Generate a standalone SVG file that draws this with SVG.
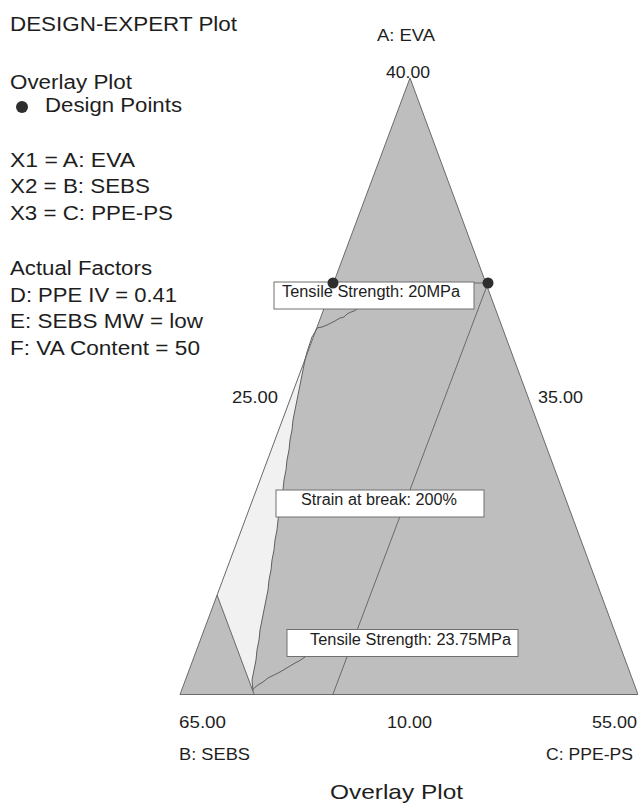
<svg xmlns="http://www.w3.org/2000/svg" width="638" height="804" viewBox="0 0 638 804">
<style>
text { font-family: "Liberation Sans", Arial, sans-serif; fill: #1e1e1e; }
.lg { font-size: 19.5px; }
.ax { font-size: 17px; }
.bx { font-size: 16px; }
.box { fill: #ffffff; stroke: #707070; stroke-width: 1; }
.edge { fill: none; stroke: #6a6a6a; stroke-width: 1; }
.ctr { fill: none; stroke: #606060; stroke-width: 1; stroke-linejoin: round; }
.pt { fill: #2e2e2e; }
</style>
<rect x="0" y="0" width="638" height="804" fill="#ffffff"/>

<g id="legend">
  <text class="lg" x="10" y="31" textLength="227" lengthAdjust="spacingAndGlyphs">DESIGN-EXPERT Plot</text>
  <text class="lg" x="10" y="89" textLength="122" lengthAdjust="spacingAndGlyphs">Overlay Plot</text>
  <circle class="pt" cx="22" cy="107" r="6"/>
  <text class="lg" x="45" y="112" textLength="137" lengthAdjust="spacingAndGlyphs">Design Points</text>
  <text class="lg" x="10" y="167" textLength="125" lengthAdjust="spacingAndGlyphs">X1 = A: EVA</text>
  <text class="lg" x="10" y="193" textLength="140" lengthAdjust="spacingAndGlyphs">X2 = B: SEBS</text>
  <text class="lg" x="10" y="220" textLength="163" lengthAdjust="spacingAndGlyphs">X3 = C: PPE-PS</text>
  <text class="lg" x="10" y="275" textLength="142" lengthAdjust="spacingAndGlyphs">Actual Factors</text>
  <text class="lg" x="10" y="302" textLength="167" lengthAdjust="spacingAndGlyphs">D: PPE IV = 0.41</text>
  <text class="lg" x="10" y="328" textLength="193" lengthAdjust="spacingAndGlyphs">E: SEBS MW = low</text>
  <text class="lg" x="10" y="355" textLength="190" lengthAdjust="spacingAndGlyphs">F: VA Content = 50</text>
</g>

<g id="plot">
  <polygon points="410,78 638,694.5 180,694.5" fill="#bebebe"/>
  <polygon id="light-region" fill="#f1f1f1" points="315,332 217,595 253,691 252,680 254,670 256,660 257,650 259,640 260,630 262,620 264,610 266,600 268,590 269,580 271,570 272,560 274,550 275,540 277,530 278,520 280,510 281,500 283,490 284,480 286,470 287,460 289,450 290,440 292,430 293,420 295,410 297,400 299,390 301,380 303,370 305,360 307,352 310,343 312,337"/>
  <g id="connectors">
    <polygon class="edge" points="410,78 638,694.5 180,694.5"/>
    <line class="edge" x1="217" y1="595" x2="254" y2="694"/>
    <line class="edge" x1="488" y1="283" x2="333" y2="694"/>
    <polyline class="ctr" points="253,691 252,680 254,670 256,660 257,650 259,640 260,630 262,620 264,610 266,600 268,590 269,580 271,570 272,560 274,550 275,540 277,530 278,520 280,510 281,500 283,490 284,480 286,470 287,460 289,450 290,440 292,430 293,420 295,410 297,400 299,390 301,380 303,370 305,360 307,352 310,343 312,337 315,332"/>
    <polyline class="ctr" points="315,332 317,328 322,327 327,325 331,323 335,321 340,318 344,317 347,314 351,312 354,311 357,309"/>
    <polyline class="ctr" points="253,689 258,685 263,682 268,678 274,675 280,672 285,669 290,666 295,663 299,661 302,659 305,657"/>
    <line class="edge" x1="474" y1="283" x2="488" y2="283"/>
  </g>
  <g id="label-ts20">
    <rect class="box" x="274" y="282" width="200" height="27"/>
    <text class="bx" x="282" y="297" textLength="178" lengthAdjust="spacingAndGlyphs">Tensile Strength: 20MPa</text>
  </g>
  <g id="label-strain">
    <rect class="box" x="276" y="490" width="208" height="27"/>
    <text class="bx" x="301" y="505" textLength="156" lengthAdjust="spacingAndGlyphs">Strain at break: 200%</text>
  </g>
  <g id="label-ts2375">
    <rect class="box" x="287" y="629.5" width="231" height="27"/>
    <text class="bx" x="310" y="645" textLength="201" lengthAdjust="spacingAndGlyphs">Tensile Strength: 23.75MPa</text>
  </g>
  <g id="design-points">
    <circle class="pt" cx="333" cy="283" r="5.5"/>
    <circle class="pt" cx="488" cy="283" r="5.5"/>
  </g>
  <g id="axis-labels">
    <text class="ax" x="377" y="41" textLength="58" lengthAdjust="spacingAndGlyphs">A: EVA</text>
    <text class="ax" x="386" y="78" textLength="44" lengthAdjust="spacingAndGlyphs">40.00</text>
    <text class="ax" x="232" y="403" textLength="46" lengthAdjust="spacingAndGlyphs">25.00</text>
    <text class="ax" x="538" y="403" textLength="45" lengthAdjust="spacingAndGlyphs">35.00</text>
    <text class="ax" x="179" y="728" textLength="47" lengthAdjust="spacingAndGlyphs">65.00</text>
    <text class="ax" x="387" y="728" textLength="45" lengthAdjust="spacingAndGlyphs">10.00</text>
    <text class="ax" x="592" y="728" textLength="45" lengthAdjust="spacingAndGlyphs">55.00</text>
    <text class="ax" x="179" y="760" textLength="71" lengthAdjust="spacingAndGlyphs">B: SEBS</text>
    <text class="ax" x="546" y="760" textLength="87" lengthAdjust="spacingAndGlyphs">C: PPE-PS</text>
    <text x="330" y="799" style="font-size:21px" textLength="133" lengthAdjust="spacingAndGlyphs">Overlay Plot</text>
  </g>
</g>
</svg>
